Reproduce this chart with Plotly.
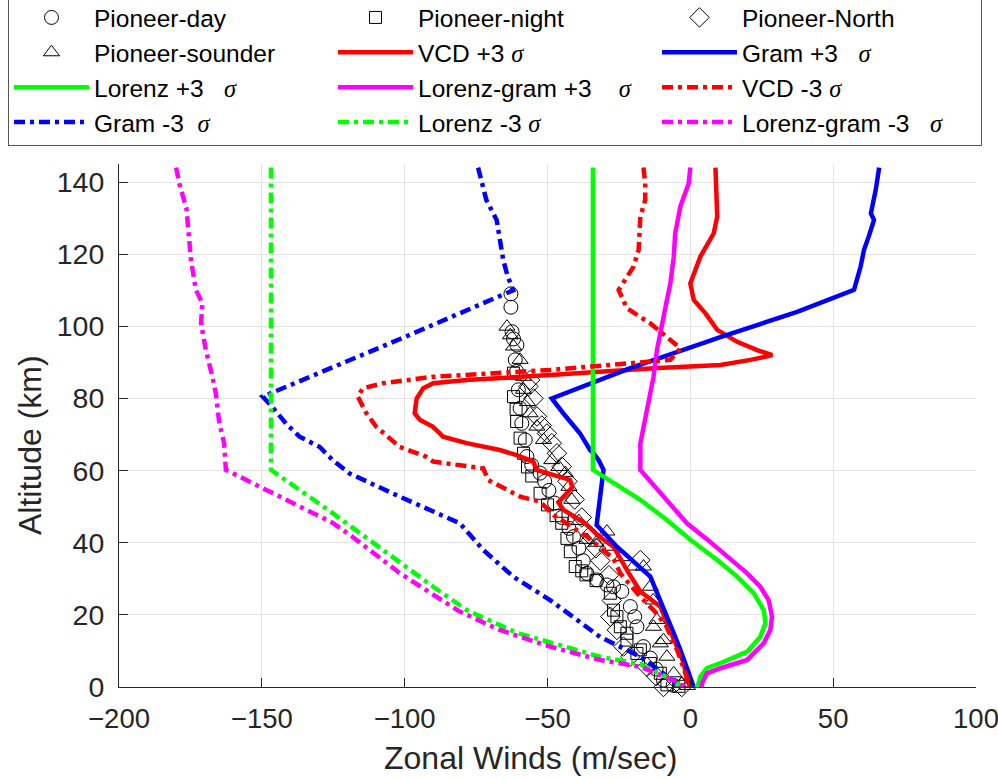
import plotly.graph_objects as go

# ---- Pioneer Venus observations (zonal wind m/s, altitude km) ----
day_x = [-62.8, -62.8, -62.4, -61.9, -60.7, -61.3, -60.8, -60.2, -59.6, -59.0, -57.8, -57.2,
         -55.5, -52.6, -51.0, -49.5, -47.5, -45.0, -42.5, -40.9, -39.0, -37.5, -36.2, -32.7,
         -29.2, -26.9, -24.0, -21.0, -19.5, -18.7, -16.4, -14.0, -12.0, -9.4, -6.0]
day_y = [109.0, 105.3, 98.5, 96.5, 94.8, 90.7, 87.5, 82.4, 77.3, 73.1, 68.5, 63.9,
         61.5, 59.3, 57.0, 54.5, 51.0, 47.0, 44.0, 41.7, 38.5, 35.0, 31.5, 29.7,
         28.3, 27.8, 26.5, 22.3, 19.5, 16.7, 11.2, 8.0, 5.0, 1.9, 0.5]

night_x = [-61.9, -61.9, -61.0, -60.8, -59.6, -58.4, -57.0, -55.5, -52.6, -50.0, -47.0, -45.0,
           -43.2, -42.0, -40.3, -38.0, -36.5, -33.0, -28.0, -26.9, -25.7, -24.5, -22.2, -22.2,
           -18.7, -17.5, -14.0, -10.5, -8.2, -4.0]
night_y = [87.0, 80.5, 77.0, 73.6, 69.0, 64.8, 61.0, 58.5, 53.7, 50.5, 47.5, 45.4,
           41.2, 37.5, 33.4, 32.2, 31.1, 29.5, 26.0, 21.3, 19.5, 16.7, 14.9, 13.0,
           9.3, 10.3, 6.5, 3.8, 0.6, 0.2]

north_x = [-56.1, -56.7, -54.9, -53.7, -52.0, -50.2, -48.5, -46.7, -45.0, -43.0, -40.5, -38.0,
           -35.0, -33.0, -31.5, -17.5, -28.5, -27.5, -28.0, -25.7, -23.4, -21.0, -15.2, -12.0,
           -9.4, -6.0, -3.0]
north_y = [85.1, 83.3, 80.0, 75.0, 72.5, 70.3, 67.6, 64.8, 61.1, 57.0, 52.0, 47.0,
           42.0, 38.5, 35.0, 35.2, 31.0, 24.0, 19.5, 15.8, 11.2, 8.4, 5.6, 3.0,
           0.0, -0.5, 0.0]

sounder_x = [-64.2, -63.0, -61.9, -59.6, -58.4, -58.4, -57.0, -56.1, -53.7, -51.4, -48.5, -46.0,
             -43.8, -42.5, -41.5, -39.0, -36.2, -33.0, -29.2, -29.2, -24.0, -19.9, -16.4, -14.0,
             -13.0, -11.7, -12.9, -10.5, -9.4, -8.2, -5.8, -3.0, -1.0]
sounder_y = [99.9, 97.5, 94.4, 90.7, 86.0, 82.4, 79.0, 75.9, 72.2, 68.5, 62.9, 61.0,
             59.3, 55.5, 51.9, 46.0, 40.8, 40.0, 43.1, 38.9, 36.0, 33.4, 33.4, 27.8,
             24.0, 18.6, 16.7, 12.1, 13.0, 8.4, 3.8, 1.0, 0.3]

# ---- model envelopes ----
vcd_p3_x = [8.8, 9.0, 9.4, 8.2, 3.5, 0.0, 1.2, 5.3, 9.4, 16.4, 23.4, 28.7, 21.1, 10.5, -12.9,
            -49.1, -78.3, -90.0, -93.5, -95.8, -96.5, -94.6, -90.2, -87.7, -86.6, -78.3, -66.7,
            -60.8, -55.0, -53.8, -42.1, -41.3, -46.2, -44.4, -36.8, -32.0, -26.9, -21.5, -17.5,
            -10.5, -8.5, -6.5, -2.3, -1.2, 0.0]
vcd_p3_y = [144, 137, 130.4, 125.8, 119.3, 111.9, 107.3, 103.6, 99.0, 95.7, 93.4, 92.0, 90.7,
            89.3, 88.4, 86.5, 85.1, 84.2, 82.8, 80.0, 75.9, 74.0, 72.2, 70.3, 69.4, 67.6, 65.7,
            64.3, 62.5, 60.2, 57.4, 55.4, 51.2, 49.1, 45.4, 41.8, 38.9, 31.5, 26.5, 22.3, 18.5,
            14.5, 6.6, 1.9, 0.0]

gram_p3_x = [66.1, 64.9, 63.2, 64.3, 62.5, 60.8, 59.6, 57.3, 37.4, 10.5, -21.0, -48.5, -44.5,
             -38.6, -35.1, -33.9, -32.1, -30.4, -32.8, -25.7, -14.0, -10.5, -8.2, -5.8, -3.5,
             0.0, 1.2]
gram_p3_y = [144, 137.8, 131.3, 129.5, 125.0, 121.2, 116.5, 110.1, 104.0, 97.0, 88.4, 80.0,
             75.9, 70.3, 65.7, 64.8, 62.9, 60.2, 44.9, 38.9, 30.6, 24.1, 19.5, 14.9, 10.3,
             2.9, 0.0]

lorenz_p3_x = [-34.1, -34.1, -17.5, -8.2, 0.0, 9.4, 16.4, 22.2, 25.7, 26.3, 24.5, 19.9, 11.7,
               5.8, 3.5, 2.6, 2.5]
lorenz_p3_y = [144, 60.2, 51.9, 46.3, 40.8, 35.2, 30.6, 26.0, 21.3, 17.7, 13.9, 9.8, 7.0,
               5.2, 2.9, 0.5, 0.0]

lg_p3_x = [0.0, -0.6, -3.5, -4.5, -5.3, -5.8, -7.0, -8.2, -9.9, -11.7, -12.9, -15.2, -17.5,
           -17.5, -9.4, -1.2, 5.8, 12.9, 19.9, 24.5, 27.4, 28.6, 28.0, 25.7, 19.9, 10.5, 5.8,
           4.1, 3.9]
lg_p3_y = [144, 139.6, 133.2, 128.0, 125.8, 119.3, 111.9, 107.3, 100.8, 93.4, 86.0, 76.8, 67.5,
           60.2, 52.8, 45.4, 41.0, 36.1, 31.5, 27.8, 24.1, 19.5, 15.8, 12.1, 7.5, 5.2, 3.8,
           1.0, 0.0]

vcd_m3_x = [-16.4, -15.8, -15.8, -17.5, -18.1, -19.9, -25.1, -24.0, -22.2, -14.0, -8.2, -3.5,
            -7.0, -30.0, -49.1, -90.2, -107.7, -114.7, -116.4, -113.5, -110.0, -101.8, -92.4,
            -90.0, -72.5, -70.8, -59.6, -52.6, -47.9, -36.2, -26.9, -24.5, -17.5, -12.5, -8.5,
            -4.5, -1.0, 0.0]
vcd_m3_y = [144, 139.6, 135.0, 130.4, 121.2, 116.5, 110.1, 108.3, 105.0, 100.8, 97.1, 93.9,
            90.7, 89.2, 87.9, 86.0, 84.2, 82.8, 80.5, 76.0, 72.2, 66.6, 63.8, 62.5, 60.6, 57.4,
            52.8, 51.4, 47.7, 41.7, 35.6, 31.5, 25.0, 21.0, 17.0, 10.0, 2.5, 0.0]

gram_m3_x = [-74.3, -72.5, -71.4, -67.8, -66.5, -65.5, -64.0, -62.0, -101.8, -149.7, -146.3,
             -141.5, -136.8, -129.8, -125.2, -119.3, -101.8, -80.7, -72.5, -62.0, -49.1, -31.6,
             -17.5, -6.0, -3.0]
gram_m3_y = [144, 137.8, 135.0, 129.5, 124.0, 118.4, 114.0, 110.0, 96.4, 80.5, 77.6, 73.0,
             69.4, 66.6, 62.9, 59.2, 52.8, 45.4, 38.0, 30.6, 24.1, 13.9, 8.4, 1.9, 0.0]

lorenz_m3_x = [-146.8, -146.8, -125.2, -107.7, -90.0, -78.2, -60.7, -31.6, -17.5, -6.0, -3.0]
lorenz_m3_y = [144, 60.2, 48.2, 38.0, 27.8, 21.3, 15.0, 8.4, 6.3, 1.9, 0.0]

lg_m3_x = [-180.0, -178.9, -176.4, -175.7, -174.8, -173.1, -170.8, -171.3, -169.6, -167.3,
           -166.1, -164.9, -163.2, -162.6, -148.5, -125.2, -118.2, -101.8, -80.7, -66.7, -49.1,
           -31.6, -17.5, -6.0, -2.0]
lg_m3_y = [144, 139.6, 132.7, 125.8, 118.4, 110.1, 106.4, 100.8, 93.4, 86.0, 81.4, 73.2, 67.6,
           60.2, 54.6, 45.5, 41.6, 31.6, 20.9, 15.8, 11.2, 7.5, 5.6, 1.9, 0.0]

x_ticks = [-200, -150, -100, -50, 0, 50, 100]
y_ticks = [0, 20, 40, 60, 80, 100, 120, 140]

SANS = "Liberation Sans, Arial, Helvetica, sans-serif"
DASHDOT = "11px,5px,4px,5px"
NB = "\u00a0"

# page geometry (px)
W, H = 998, 780
ML, MR, MT, MB = 119, 22, 164, 93
PW, PH = W - ML - MR, H - MT - MB


def px_to_paper_x(px):
    return (px - ML) / PW


def px_to_paper_y(py):
    return (H - MB - py) / PH


def sig(label, gap=1):
    return label + NB * gap + '<span style="font-family:Liberation Serif"><i>σ</i></span>'


fig = go.Figure()


def add_markers(name, xs, ys, symbol, size):
    fig.add_trace(go.Scatter(
        x=xs, y=ys, mode="markers", name=name, cliponaxis=False,
        marker=dict(symbol=symbol, size=size, color="black", line=dict(color="black", width=1)),
    ))


def add_line(name, xs, ys, color, dash):
    fig.add_trace(go.Scatter(
        x=xs, y=ys, mode="lines", name=name,
        line=dict(color=color, width=4.5, dash=dash),
    ))


add_markers("Pioneer-day", day_x, day_y, "circle-open", 14)
add_markers("Pioneer-night", night_x, night_y, "square-open", 12)
add_markers("Pioneer-North", north_x, north_y, "diamond-open", 15)
add_markers("Pioneer-sounder", sounder_x, sounder_y, "triangle-up-open", 14)
add_line(sig("VCD +3"), vcd_p3_x, vcd_p3_y, "#ff0000", "solid")
add_line(sig("Gram +3", 3), gram_p3_x, gram_p3_y, "#0000ff", "solid")
add_line(sig("Lorenz +3", 3), lorenz_p3_x, lorenz_p3_y, "#00ff00", "solid")
add_line(sig("Lorenz-gram +3", 4), lg_p3_x, lg_p3_y, "#ff00ff", "solid")
add_line(sig("VCD -3"), vcd_m3_x, vcd_m3_y, "#ff0000", DASHDOT)
add_line(sig("Gram -3", 2), gram_m3_x, gram_m3_y, "#0000ff", DASHDOT)
add_line(sig("Lorenz -3"), lorenz_m3_x, lorenz_m3_y, "#00ff00", DASHDOT)
add_line(sig("Lorenz-gram -3", 3), lg_m3_x, lg_m3_y, "#ff00ff", DASHDOT)

axis_common = dict(
    showline=True, linecolor="#262626", linewidth=1, mirror=False,
    ticks="inside", ticklen=9, tickwidth=1, tickcolor="#262626",
    showgrid=True, gridcolor="#e3e3e3", gridwidth=1, zeroline=False,
)

fig.update_layout(
    width=W, height=H,
    margin=dict(l=ML, r=MR, t=MT, b=MB, autoexpand=False),
    paper_bgcolor="white", plot_bgcolor="white",
    font=dict(family=SANS, color="black"),
    xaxis=dict(range=[-200, 100], tickvals=x_ticks, ticklabeloverflow="allow",
               ticklabelstandoff=7, tickfont=dict(family=SANS, size=27.5, color="#262626"),
               **axis_common),
    yaxis=dict(range=[0, 145], tickvals=y_ticks, ticklabelstandoff=8,
               tickfont=dict(family=SANS, size=28.5, color="#262626"), **axis_common),
    legend=dict(
        orientation="h", xref="paper", yref="paper",
        x=px_to_paper_x(8), y=px_to_paper_y(-6), xanchor="left", yanchor="top",
        bordercolor="#555555", borderwidth=1, bgcolor="white",
        font=dict(family=SANS, size=24.5, color="black"),
        itemwidth=75, entrywidth=234, entrywidthmode="pixels",
        traceorder="normal",
    ),
    annotations=[
        dict(text="Zonal Winds (m/sec)", xref="paper", yref="paper",
             x=px_to_paper_x(530), y=px_to_paper_y(758),
             xanchor="center", yanchor="middle", showarrow=False,
             font=dict(family=SANS, size=32, color="#262626")),
        dict(text="Altitude (km)", xref="paper", yref="paper",
             x=px_to_paper_x(30), y=px_to_paper_y(445),
             xanchor="center", yanchor="middle", showarrow=False, textangle=-90,
             font=dict(family=SANS, size=32, color="#262626")),
    ],
)

fig.write_html("out.html")
